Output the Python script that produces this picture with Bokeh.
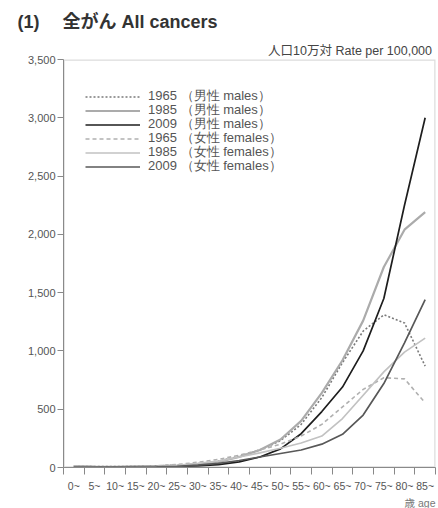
from bokeh.plotting import figure
from bokeh.models import (ColumnDataSource, FixedTicker, NumeralTickFormatter,
                          Legend, LegendItem, Title, Range1d, BoxAnnotation)
from bokeh.embed import file_html
from bokeh.resources import INLINE

# ---- data ----
age_labels = ["0~", "5~", "10~", "15~", "20~", "25~", "30~", "35~", "40~",
              "45~", "50~", "55~", "60~", "65~", "70~", "75~", "80~", "85~"]
males_1965 = [15, 8, 8, 10, 14, 20, 32, 55, 95, 150, 230, 370, 600, 900, 1170, 1310, 1240, 870]
males_1985 = [12, 7, 6, 9, 12, 16, 26, 48, 90, 150, 240, 400, 640, 920, 1260, 1720, 2040, 2190]
males_2009 = [4, 3, 3, 5, 7, 9, 14, 25, 48, 90, 160, 290, 480, 690, 1000, 1450, 2250, 3000]
females_1965 = [12, 6, 6, 8, 14, 25, 45, 70, 105, 150, 200, 270, 370, 520, 670, 770, 760, 555]
females_1985 = [9, 5, 4, 6, 9, 18, 35, 55, 90, 125, 165, 210, 270, 420, 620, 820, 990, 1110]
females_2009 = [4, 3, 3, 4, 6, 10, 20, 35, 60, 90, 120, 150, 200, 285, 450, 720, 1070, 1440]
series_names = ["1965 （男性 males）", "1985 （男性 males）", "2009 （男性 males）",
                "1965 （女性 females）", "1985 （女性 females）", "2009 （女性 females）"]
y_ticks = [0, 500, 1000, 1500, 2000, 2500, 3000, 3500]

FONT = "'Liberation Sans', 'Noto Sans CJK JP', sans-serif"
LEG_FONT = "'Liberation Sans'"

n = len(age_labels)
xs = [i + 0.5 for i in range(n)]

p = figure(width=438, height=508, output_backend="svg", toolbar_location=None,
           x_range=Range1d(0, n), y_range=Range1d(0, 3500),
           min_border_left=63, min_border_right=3, min_border_top=57,
           min_border_bottom=41)
p.grid.visible = False
p.outline_line_color = None
p.background_fill_color = "white"
p.border_fill_color = "white"

# frame border (top / right edges)
p.add_layout(BoxAnnotation(left=0, right=n, bottom=0, top=3500, fill_alpha=0,
                           line_color="#8a8a8a", line_width=2.5))

styles = [
    dict(color="#7a7a7a", width=1.6, dash="2 2"),
    dict(color="#ababab", width=2.2, dash="solid"),
    dict(color="#1e1e1e", width=1.7, dash="solid"),
    dict(color="#b0b0b0", width=1.6, dash="4 3"),
    dict(color="#c2c2c2", width=1.7, dash="solid"),
    dict(color="#585858", width=1.7, dash="solid"),
]
data = [males_1965, males_1985, males_2009, females_1965, females_1985, females_2009]

# one single-row legend per series so the row pitch can be set exactly
ROW0 = 96      # first row centre, px from top of canvas
PITCH = 14     # row pitch, px
ITEM_H = 18
for k, (name, ys, st) in enumerate(zip(series_names, data, styles)):
    src = ColumnDataSource(dict(x=xs, y=ys))
    r = p.line("x", "y", source=src, line_color=st["color"], line_width=st["width"],
               line_dash=st["dash"])
    centre = ROW0 + k * PITCH
    bottom_from_frame = 467 - (centre + ITEM_H / 2)
    lg = Legend(items=[LegendItem(label=name, renderers=[r])],
                location=(22, bottom_from_frame), padding=0, margin=0, spacing=0,
                glyph_width=55, glyph_height=13, label_height=13, label_standoff=8,
                label_text_font_size="13px", label_text_color="#555555",
                label_text_font=LEG_FONT, border_line_color=None,
                background_fill_alpha=0)
    p.add_layout(lg, "center")

# x axis
xa = p.xaxis[0]
xa.ticker = FixedTicker(ticks=xs, minor_ticks=list(range(n + 1)))
xa.major_label_overrides = {x: lab for x, lab in zip(xs, age_labels)}
xa.major_tick_line_color = None
xa.minor_tick_line_color = "#888888"
xa.minor_tick_out = 7
xa.minor_tick_in = 0
xa.axis_line_color = "#8a8a8a"
xa.major_label_text_font_size = "10.5px"
xa.major_label_text_color = "#555555"
xa.major_label_text_font = FONT
xa.major_label_standoff = 5

# y axis
ya = p.yaxis[0]
ya.ticker = FixedTicker(ticks=y_ticks)
ya.formatter = NumeralTickFormatter(format="0,0")
ya.minor_tick_line_color = None
ya.major_tick_out = 6
ya.major_tick_in = 0
ya.major_tick_line_color = "#888888"
ya.axis_line_color = "#8a8a8a"
ya.major_label_text_font_size = "11px"
ya.major_label_text_color = "#555555"
ya.major_label_text_font = FONT
ya.major_label_standoff = 2

# titles
p.title.text = "(1)\u3000\u00a0全がん All cancers"
p.title.align = "left"
p.title.offset = -46
p.title.text_font_size = "18px"
p.title.text_font_style = "bold"
p.title.text_color = "#333333"
p.title.text_font = FONT
p.title.standoff = 18

rate = Title(text="人口10万対  Rate per 100,000", align="right",
             text_font_size="12.5px", text_font_style="normal", text_color="#444444",
             text_font=FONT, standoff=3)
p.add_layout(rate, "above")

age_t = Title(text="歳 age", align="right", text_font_size="10.5px",
              text_font_style="normal", text_color="#777777", text_font=FONT,
              standoff=0)
p.add_layout(age_t, "below")

open("out.html", "w").write(file_html(p, INLINE))
